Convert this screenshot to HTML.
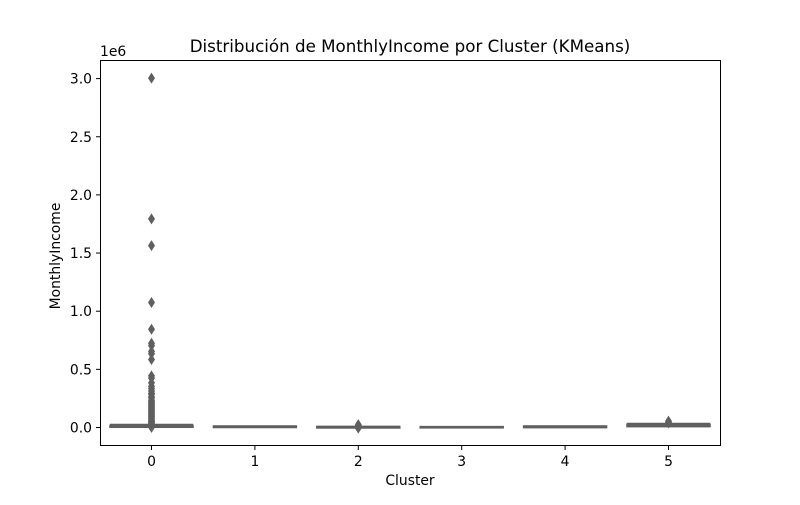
<!DOCTYPE html>
<html><head><meta charset="utf-8"><style>
body{margin:0;background:#fff;font-family:"Liberation Sans","DejaVu Sans",sans-serif;}
svg text{font-family:"DejaVu Sans","Liberation Sans",sans-serif;}
</style></head><body>
<svg id="chart" width="800" height="500" viewBox="0 0 800 500" xmlns="http://www.w3.org/2000/svg">
<rect width="800" height="500" fill="#fff"/>
<g id="marks"></g>
<rect x="100.5" y="60.5" width="620" height="385" fill="none" stroke="#000" stroke-width="1"/>
<g id="axes"></g>
<text x="410" y="52" text-anchor="middle" font-size="16.7">Distribución de MonthlyIncome por Cluster (KMeans)</text>
<text x="410" y="485" text-anchor="middle" font-size="13.9">Cluster</text>
<text transform="translate(60,256) rotate(-90)" text-anchor="middle" font-size="13.9">MonthlyIncome</text>
<text x="100" y="56" font-size="13.9">1e6</text>
</svg>
<script>
const categories = ["0","1","2","3","4","5"];
// values in millions
const q1 = [0.002, 0.000, -0.004, -0.003, -0.001, 0.008];
const median = [0.005, 0.002, -0.002, -0.002, 0.001, 0.013];
const q3 = [0.010, 0.004, 0.000, -0.001, 0.004, 0.020];
const whiskLo = [-0.002, -0.002, -0.006, -0.004, -0.003, 0.004];
const whiskHi = [0.022, 0.008, 0.004, 0.001, 0.008, 0.030];
const outliers = [
 [3.0,1.79,1.56,1.07,0.84,0.72,0.70,0.65,0.63,0.58,0.44,0.42,0.38,0.35,0.33,0.31,0.29,0.28,0.26,0.25,0.23,0.22,0.21,0.20,0.19,0.18,0.17,0.16,0.15,0.14,0.13,0.12,0.11,0.10,0.09,0.08,0.07,0.06,0.05,0.045,0.04,0.035,0.03,-0.003],
 [],
 [0.02,0.01,-0.01],
 [],
 [],
 [0.05,0.04,0.035]
];
const yTicks = [0,0.5,1.0,1.5,2.0,2.5,3.0];
const yTickLabels = ["0.0","0.5","1.0","1.5","2.0","2.5","3.0"];

const NS="http://www.w3.org/2000/svg";
const y = v => 427 - v*116.3;
const x = i => 151.5 + i*103.4;
const bw = 83;
const marks=document.getElementById('marks'), axes=document.getElementById('axes');
function mk(tag, attrs, parent){const e=document.createElementNS(NS,tag);for(const k in attrs)e.setAttribute(k,attrs[k]);parent.appendChild(e);return e;}
const col="#5f5f5f", fill="#808080";
categories.forEach((c,i)=>{
  const cx=x(i);
  const g=mk('g',{},marks);
  
  
  mk('line',{x1:cx-bw/2,x2:cx+bw/2,y1:y(whiskLo[i]),y2:y(whiskLo[i]),stroke:col,'stroke-width':1.5},g);
  mk('line',{x1:cx-bw/2,x2:cx+bw/2,y1:y(whiskHi[i]),y2:y(whiskHi[i]),stroke:col,'stroke-width':1.5},g);
  const top=y(q3[i]), bot=y(q1[i]);
  mk('rect',{x:cx-bw/2,y:top-0.5,width:bw,height:Math.max(bot-top,0)+1,fill:fill,stroke:col,'stroke-width':1.5},g);
  mk('line',{x1:cx-bw/2,x2:cx+bw/2,y1:y(median[i]),y2:y(median[i]),stroke:col,'stroke-width':1.5},g);
  outliers[i].forEach(v=>{
    const yy=y(v);
    const p=mk('polygon',{points:`${cx},${yy-5.5} ${cx+3.5},${yy} ${cx},${yy+5.5} ${cx-3.5},${yy}`,fill:col},g);
    
    
  });
  mk('line',{x1:cx,x2:cx,y1:445.5,y2:450,stroke:'#000'},axes);
  const t=mk('text',{x:cx,y:466,'text-anchor':'middle','font-size':13.9},axes);
  
  
  t.textContent=c;
});
yTicks.forEach((v,i)=>{
  const yy=y(v)+0.5;
  mk('line',{x1:96,x2:100.5,y1:yy,y2:yy,stroke:'#000'},axes);
  const t=mk('text',{x:92,y:yy+5,'text-anchor':'end','font-size':13.9},axes);
  
  
  t.textContent=yTickLabels[i];
});
</script>
</body></html>
